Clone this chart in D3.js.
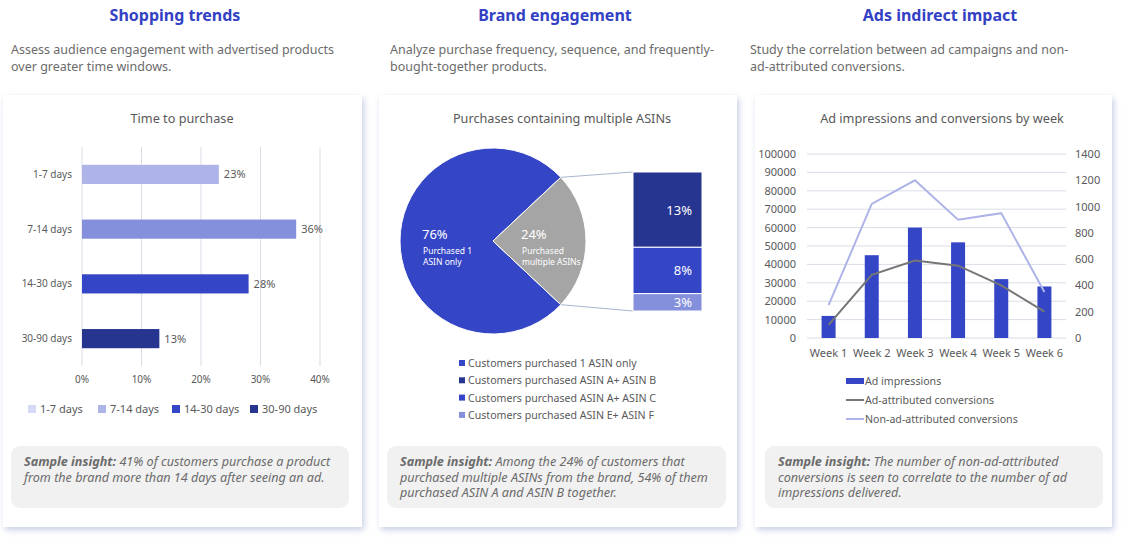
<!DOCTYPE html>
<html>
<head>
<meta charset="utf-8">
<script src="https://cdn.jsdelivr.net/npm/d3@7"></script>
<style>
  body { margin: 0; background: #fff; }
  svg text { font-family: "Noto Sans", "Open Sans", sans-serif; }
</style>
</head>
<body>
<svg id="page" width="1126" height="540"></svg>
<script>
// panel texts
const headings = ["Shopping trends", "Brand engagement", "Ads indirect impact"];
const descriptions = [
  ["Assess audience engagement with advertised products", "over greater time windows."],
  ["Analyze purchase frequency, sequence, and frequently-", "bought-together products."],
  ["Study the correlation between ad campaigns and non-", "ad-attributed conversions."]
];
const insights = [
  ["41% of customers purchase a product", "from the brand more than 14 days after seeing an ad."],
  ["Among the 24% of customers that", "purchased multiple ASINs from the brand, 54% of them", "purchased ASIN A and ASIN B together."],
  ["The number of non-ad-attributed", "conversions is seen to correlate to the number of ad", "impressions delivered."]
];

// chart 1
const timeCats = ["1-7 days", "7-14 days", "14-30 days", "30-90 days"];
const timeShares = [23, 36, 28, 13];
const timeTicks = [0, 10, 20, 30, 40];

// chart 2
const pieCats = ["Purchased 1 ASIN only", "Purchased multiple ASINs"];
const pieShares = [76, 24];
const comboShares = [13, 8, 3];
const asinLegend = ["Customers purchased 1 ASIN only", "Customers purchased ASIN A+ ASIN B",
                    "Customers purchased ASIN A+ ASIN C", "Customers purchased ASIN E+ ASIN F"];

// chart 3
const weeks = ["Week 1", "Week 2", "Week 3", "Week 4", "Week 5", "Week 6"];
const impressions = [12000, 45000, 60000, 52000, 32000, 28000];
const adConversions = [100, 480, 590, 550, 400, 200];
const nonAdConversions = [250, 1020, 1200, 900, 950, 350];

const BLUE = "#3446c6", NAVY = "#26358f", MID = "#8590dd", LIGHT = "#aeb4e8", PALE = "#d7daf4";
const GREY_TXT = "#595959", GRID = "#d9dde6";

const svg = d3.select("#page");

const defs = svg.append("defs");
const shadow = defs.append("filter").attr("id", "shadow")
  .attr("x", "-5%").attr("y", "-5%").attr("width", "115%").attr("height", "115%");
shadow.append("feDropShadow").attr("dx", 2).attr("dy", 3).attr("stdDeviation", 3)
  .attr("flood-color", "#aebbd6").attr("flood-opacity", 0.7);

const cards = [
  {x: 3, w: 359, hx: 175, tx: 11, ix: 11, iw: 338},
  {x: 379, w: 358, hx: 555, tx: 390, ix: 387, iw: 339},
  {x: 755, w: 357, hx: 940, tx: 750, ix: 765, iw: 338}
];

cards.forEach(function(c, i) {
  svg.append("rect").attr("x", c.x).attr("y", 95).attr("width", c.w).attr("height", 432)
    .attr("fill", "#fff").attr("filter", "url(#shadow)");

  svg.append("text").attr("x", c.hx).attr("y", 21).attr("text-anchor", "middle")
    .attr("font-size", 16).attr("font-weight", "bold").attr("fill", "#3341c4")
    .text(headings[i]);

  descriptions[i].forEach(function(line, j) {
    svg.append("text").attr("x", c.tx).attr("y", 54 + j * 17)
      .attr("font-size", 12.5).attr("fill", "#6b6b6b").text(line);
  });

  svg.append("rect").attr("x", c.ix).attr("y", 446).attr("width", c.iw).attr("height", 62)
    .attr("rx", 9).attr("fill", "#f1f1f1");

  insights[i].forEach(function(line, j) {
    const t = svg.append("text").attr("x", c.ix + 13).attr("y", 466 + j * 15.5)
      .attr("font-size", 12.6).attr("font-style", "italic").attr("fill", "#6b6b6b");
    if (j === 0) t.append("tspan").attr("font-weight", "bold").text("Sample insight: ");
    t.append("tspan").text(line);
  });
});

function chartTitle(x, text) {
  svg.append("text").attr("x", x).attr("y", 123).attr("text-anchor", "middle")
    .attr("font-size", 12.7).attr("fill", GREY_TXT).text(text);
}

// ---------- chart 1: time to purchase ----------
chartTitle(182, "Time to purchase");

const x1 = d3.scaleLinear().domain([0, 40]).range([82, 320]);
const y1 = d3.scaleBand().domain(timeCats).range([147, 366]).paddingInner(0.65).paddingOuter(0.325);
const barColors1 = [LIGHT, MID, BLUE, NAVY];
const legendColors1 = [PALE, LIGHT, BLUE, NAVY];

svg.append("g").selectAll("line").data(timeTicks).join("line")
  .attr("x1", d => x1(d)).attr("x2", d => x1(d)).attr("y1", 147).attr("y2", 366)
  .attr("stroke", GRID).attr("stroke-width", 1);

svg.append("g").selectAll("rect").data(timeShares).join("rect")
  .attr("x", x1(0)).attr("y", (d, i) => y1(timeCats[i]))
  .attr("width", d => x1(d) - x1(0)).attr("height", y1.bandwidth())
  .attr("fill", (d, i) => barColors1[i]);

svg.append("g").selectAll("text").data(timeShares).join("text")
  .attr("x", d => x1(d) + 5).attr("y", (d, i) => y1(timeCats[i]) + y1.bandwidth() / 2 + 4)
  .attr("font-size", 11).attr("fill", GREY_TXT).text(d => d + "%");

svg.append("g").selectAll("text").data(timeCats).join("text")
  .attr("x", 72).attr("y", d => y1(d) + y1.bandwidth() / 2 + 3.5).attr("text-anchor", "end")
  .attr("font-size", 10).attr("fill", GREY_TXT).text(d => d);

svg.append("g").selectAll("text").data(timeTicks).join("text")
  .attr("x", d => x1(d)).attr("y", 383).attr("text-anchor", "middle")
  .attr("font-size", 10).attr("fill", GREY_TXT).text(d => d + "%");

const leg1x = [28, 98, 172, 250];
const leg1 = svg.append("g").selectAll("g").data(timeCats).join("g")
  .attr("transform", (d, i) => "translate(" + leg1x[i] + ",409)");
leg1.append("rect").attr("x", 0).attr("y", -4).attr("width", 8).attr("height", 8)
  .attr("fill", (d, i) => legendColors1[i]);
leg1.append("text").attr("x", 12).attr("y", 4).attr("font-size", 11).attr("fill", GREY_TXT).text(d => d);

// ---------- chart 2: pie with bar breakdown ----------
chartTitle(562, "Purchases containing multiple ASINs");

const cx = 493, cy = 241, r = 93;
const greyHalf = Math.PI * pieShares[1] / 100;
const pie = d3.pie().sort(null).startAngle(Math.PI / 2 + greyHalf).endAngle(Math.PI / 2 + greyHalf + 2 * Math.PI);
const arcs = pie(pieShares);
const arc = d3.arc().innerRadius(0).outerRadius(r);
const pieG = svg.append("g").attr("transform", "translate(" + cx + "," + cy + ")");
pieG.selectAll("path").data(arcs).join("path")
  .attr("d", arc).attr("fill", (d, i) => i === 0 ? BLUE : "#a5a5a5")
  .attr("stroke", "#fff").attr("stroke-width", 1);

// stacked breakdown bar
const barX = 633, barW = 69;
const yb = d3.scaleLinear().domain([0, d3.sum(comboShares)]).range([172, 311]);
const cum = d3.cumsum(comboShares);
const comboColors = [NAVY, BLUE, MID];

// connector lines from the grey slice edges to the breakdown bar
const aUp = arcs[1].startAngle, aDown = arcs[1].endAngle;
const conn = [
  [cx + r * Math.sin(aUp), cy - r * Math.cos(aUp), barX, yb(0)],
  [cx + r * Math.sin(aDown), cy - r * Math.cos(aDown), barX, yb(cum[2])]
];
svg.append("g").selectAll("line").data(conn).join("line")
  .attr("x1", d => d[0]).attr("y1", d => d[1]).attr("x2", d => d[2]).attr("y2", d => d[3])
  .attr("stroke", "#a9b6cf").attr("stroke-width", 1);

svg.append("g").selectAll("rect").data(comboShares).join("rect")
  .attr("x", barX).attr("y", (d, i) => yb(cum[i] - d)).attr("width", barW)
  .attr("height", d => yb(d) - yb(0)).attr("fill", (d, i) => comboColors[i])
  .attr("stroke", "#fff").attr("stroke-width", 1);

svg.append("g").selectAll("text").data(comboShares).join("text")
  .attr("x", barX + 59).attr("y", (d, i) => (yb(cum[i] - d) + yb(cum[i])) / 2 + 5)
  .attr("text-anchor", "end").attr("font-size", 13).attr("fill", "#fff").text(d => d + "%");

// pie labels
const pieLab = [
  {x: cx - 71, lines: ["Purchased 1", "ASIN only"]},
  {x: cx + 28, lines: ["Purchased", "multiple ASINs"]}
];
pieShares.forEach(function(v, i) {
  svg.append("text").attr("x", pieLab[i].x).attr("y", cy - 2).attr("font-size", 13)
    .attr("fill", "#fff").text(v + "%");
  pieLab[i].lines.forEach(function(l, j) {
    svg.append("text").attr("x", pieLab[i].x + 1).attr("y", cy + 13 + j * 11)
      .attr("font-size", 8.5).attr("fill", "#fff").text(l);
  });
});

const legend2Colors = [BLUE, NAVY, BLUE, MID];
const leg2 = svg.append("g").selectAll("g").data(asinLegend).join("g")
  .attr("transform", (d, i) => "translate(459," + (363 + i * 17.3) + ")");
leg2.append("rect").attr("x", 0).attr("y", -3).attr("width", 6).attr("height", 6)
  .attr("fill", (d, i) => legend2Colors[i]);
leg2.append("text").attr("x", 9).attr("y", 4).attr("font-size", 10.6).attr("fill", GREY_TXT).text(d => d);

// ---------- chart 3: combo chart ----------
chartTitle(942, "Ad impressions and conversions by week");

const x3 = d3.scaleBand().domain(weeks).range([807, 1066]);
const yL = d3.scaleLinear().domain([0, 100000]).range([338, 154]);
const yR = d3.scaleLinear().domain([0, 1400]).range([338, 154]);

svg.append("g").selectAll("line").data(yL.ticks(10)).join("line")
  .attr("x1", 807).attr("x2", 1066).attr("y1", d => yL(d)).attr("y2", d => yL(d))
  .attr("stroke", GRID).attr("stroke-width", 1);

svg.append("g").selectAll("text").data(yL.ticks(10)).join("text")
  .attr("x", 796).attr("y", d => yL(d) + 4).attr("text-anchor", "end")
  .attr("font-size", 11).attr("fill", GREY_TXT).text(d => d);

svg.append("g").selectAll("text").data(yR.ticks(7)).join("text")
  .attr("x", 1075).attr("y", d => yR(d) + 4)
  .attr("font-size", 11).attr("fill", GREY_TXT).text(d => d);

svg.append("g").selectAll("text").data(weeks).join("text")
  .attr("x", d => x3(d) + x3.bandwidth() / 2).attr("y", 357).attr("text-anchor", "middle")
  .attr("font-size", 11).attr("fill", GREY_TXT).text(d => d);

const barW3 = 14;
svg.append("g").selectAll("rect").data(impressions).join("rect")
  .attr("x", (d, i) => x3(weeks[i]) + x3.bandwidth() / 2 - barW3 / 2)
  .attr("y", d => yL(d)).attr("width", barW3).attr("height", d => yL(0) - yL(d))
  .attr("fill", BLUE);

const line3 = d3.line().x((d, i) => x3(weeks[i]) + x3.bandwidth() / 2).y(d => yR(d));
svg.append("path").datum(nonAdConversions).attr("d", line3)
  .attr("fill", "none").attr("stroke", LIGHT).attr("stroke-width", 2);
svg.append("path").datum(adConversions).attr("d", line3)
  .attr("fill", "none").attr("stroke", "#767676").attr("stroke-width", 2);

const leg3 = svg.append("g");
const leg3Items = ["Ad impressions", "Ad-attributed conversions", "Non-ad-attributed conversions"];
leg3Items.forEach(function(name, i) {
  const y = 381 + i * 19;
  if (i === 0) {
    leg3.append("rect").attr("x", 846).attr("y", y - 3).attr("width", 18).attr("height", 6).attr("fill", BLUE);
  } else {
    leg3.append("line").attr("x1", 846).attr("x2", 864).attr("y1", y).attr("y2", y)
      .attr("stroke", i === 1 ? "#767676" : LIGHT).attr("stroke-width", 2);
  }
  leg3.append("text").attr("x", 865).attr("y", y + 4).attr("font-size", 10.6)
    .attr("fill", GREY_TXT).text(name);
});
</script>
</body>
</html>
